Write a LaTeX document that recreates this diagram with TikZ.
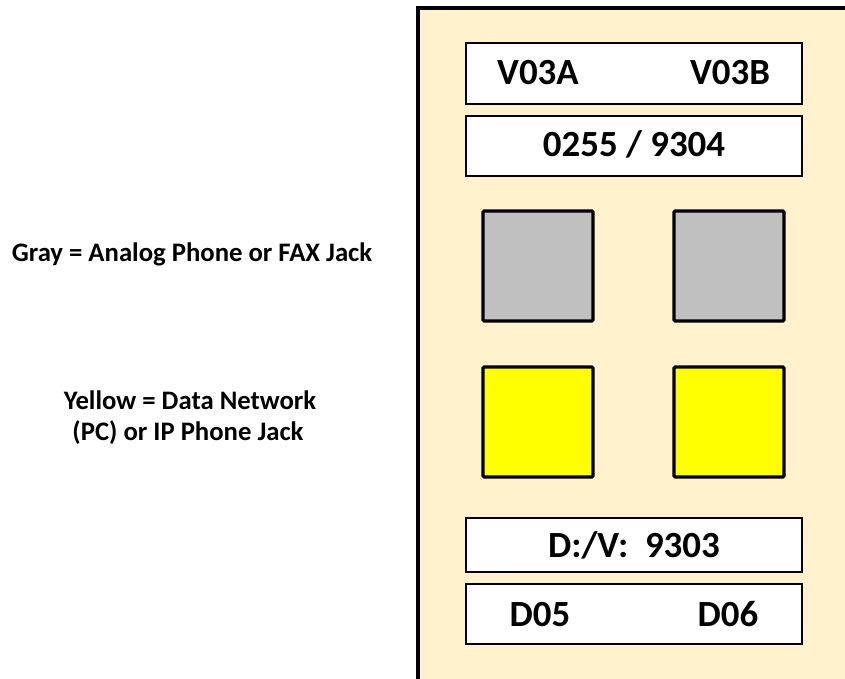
\documentclass[tikz,border=0pt]{standalone}
\usepackage{fontspec}
\setmainfont{Carlito}
\definecolor{platecream}{HTML}{FFF2CC}
\definecolor{jackgray}{HTML}{C0C0C0}
\definecolor{jackyellow}{HTML}{FFFF00}
\begin{document}
\begin{tikzpicture}[x=0.03cm, y=-0.03cm,
    platebox/.style={draw=black, line width=3.4pt, fill=platecream},
    labelbox/.style={draw=black, line width=2.2pt, fill=white},
    jack/.style={draw=black, line width=2.8pt, rounded corners=1pt},
    platetext/.style={font=\bfseries\fontsize{31.5}{36}\selectfont, anchor=base, inner sep=0pt},
    legendtext/.style={font=\bfseries\fontsize{22.8}{27}\selectfont, anchor=base, inner sep=0pt}]

% ---- Page frame ----
            \useasboundingbox (0,0) rectangle (845,679);
            \clip (0,0) rectangle (845,679);

% ---- Wall plate ----
            \draw[platebox] (418,8) rectangle (860,681);

% ---- Label strips ----
            \draw[labelbox] (466,43) rectangle (802,104);
            \draw[labelbox] (466,116) rectangle (802,176);
            \draw[labelbox] (466,518) rectangle (802,572);
            \draw[labelbox] (466,584) rectangle (802,644);

            \node[platetext] (v03a) at (538,85) {V03A};
            \node[platetext] (v03b) at (730,85) {V03B};
            \node[platetext] (vnum) at (634,157) {0255 / 9304};
            \node[platetext] (dvnum) at (634,557) {D:/V:\ \ 9303};
            \node[platetext] (d05) at (540,626) {D05};
            \node[platetext] (d06) at (728,626) {D06};

% ---- Jacks ----
            \foreach \x in {483,674} {
                \draw[jack, fill=jackgray] (\x,211) rectangle (\x+110,321);
                \draw[jack, fill=jackyellow] (\x,367) rectangle (\x+110,477);
            }

% ---- Legend ----
            \node[legendtext] (graylegend) at (192,262) {Gray = Analog Phone or FAX Jack};
            \node[legendtext] (yellowlegend) at (190,409) {Yellow = Data Network};
            \node[legendtext] (yellowlegendb) at (188,440) {(PC) or IP Phone Jack};

\end{tikzpicture}
\end{document}
